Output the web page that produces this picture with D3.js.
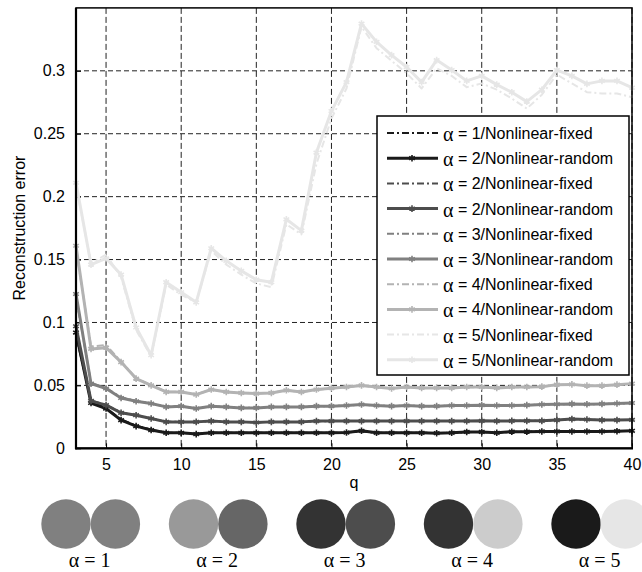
<!DOCTYPE html>
<html>
<head>
<meta charset="utf-8">
<script src="https://cdn.jsdelivr.net/npm/d3@7"></script>
<style>
	body { margin: 0; background: #fff; }
</style>
</head>
<body>
<div id="chart-area"></div>
<script>
const WIDTH = 642
const HEIGHT = 572
const PLOT = { LEFT: 76, RIGHT: 632, TOP: 7.9, BOTTOM: 448.3 }
const SANS = "'Liberation Sans', Arial, sans-serif"
const SERIF = "'Liberation Serif', 'Times New Roman', serif"

// data
const qValues = [3, 4, 5, 6, 7, 8, 9, 10, 11, 12, 13, 14, 15, 16, 17, 18, 19, 20, 21, 22,
	23, 24, 25, 26, 27, 28, 29, 30, 31, 32, 33, 34, 35, 36, 37, 38, 39, 40]
const xTicks = [5, 10, 15, 20, 25, 30, 35, 40]
const yTicks = [0, 0.05, 0.1, 0.15, 0.2, 0.25, 0.3]

const a1Fixed = [0.090, 0.037, 0.032, 0.023, 0.018, 0.0148, 0.0125, 0.0123, 0.0115, 0.0123, 0.0123, 0.0123, 0.0123, 0.0123, 0.0123, 0.0123, 0.0123, 0.0123, 0.0125, 0.0135,
	0.0123, 0.0123, 0.0123, 0.0123, 0.0122, 0.0123, 0.0128, 0.013, 0.0125, 0.013, 0.0132, 0.0134, 0.0134, 0.0134, 0.0134, 0.0134, 0.0136, 0.0138]
const a1Random = [0.092, 0.036, 0.0316, 0.0224, 0.0176, 0.0145, 0.0123, 0.0123, 0.0113, 0.0123, 0.0123, 0.0123, 0.0123, 0.0123, 0.0123, 0.0123, 0.0123, 0.0123, 0.0125, 0.0139,
	0.0123, 0.0123, 0.0123, 0.0123, 0.012, 0.0123, 0.013, 0.013, 0.0123, 0.0132, 0.0132, 0.0134, 0.0134, 0.0134, 0.0134, 0.0134, 0.0136, 0.0139]
const a2Fixed = [0.095, 0.038, 0.0345, 0.0285, 0.0265, 0.0238, 0.0212, 0.021, 0.021, 0.0215, 0.021, 0.021, 0.0207, 0.021, 0.021, 0.021, 0.0215, 0.0216, 0.0216, 0.0216,
	0.0216, 0.0216, 0.0216, 0.0216, 0.0216, 0.0216, 0.0216, 0.0218, 0.0216, 0.0218, 0.0218, 0.0218, 0.0222, 0.023, 0.0228, 0.0224, 0.0224, 0.0225]
const a2Random = [0.097, 0.0377, 0.0343, 0.0282, 0.0263, 0.0237, 0.021, 0.021, 0.021, 0.0216, 0.021, 0.021, 0.0205, 0.021, 0.021, 0.021, 0.0216, 0.0216, 0.0216, 0.0216,
	0.0216, 0.0216, 0.0216, 0.0216, 0.0216, 0.0216, 0.0216, 0.0218, 0.0216, 0.0218, 0.0218, 0.0218, 0.0224, 0.0232, 0.0229, 0.0224, 0.0224, 0.0226]
const a3Fixed = [0.121, 0.052, 0.048, 0.0405, 0.0376, 0.0357, 0.0331, 0.0335, 0.0318, 0.0334, 0.0329, 0.0322, 0.0322, 0.0329, 0.0329, 0.0329, 0.0334, 0.0335, 0.034, 0.0346,
	0.034, 0.0335, 0.034, 0.0335, 0.0335, 0.034, 0.034, 0.0342, 0.034, 0.034, 0.0343, 0.0347, 0.035, 0.0352, 0.035, 0.0352, 0.0355, 0.0358]
const a3Random = [0.1226, 0.0514, 0.0475, 0.040, 0.0374, 0.0356, 0.0329, 0.0335, 0.0316, 0.0335, 0.0329, 0.0321, 0.0321, 0.0329, 0.0329, 0.0329, 0.0335, 0.0335, 0.034, 0.0348,
	0.034, 0.0335, 0.034, 0.0335, 0.0335, 0.034, 0.034, 0.0343, 0.034, 0.034, 0.0343, 0.0348, 0.035, 0.0353, 0.035, 0.0353, 0.0356, 0.036]
const a4Fixed = [0.159, 0.081, 0.082, 0.069, 0.0556, 0.0502, 0.045, 0.0448, 0.043, 0.0465, 0.0448, 0.0442, 0.0437, 0.0442, 0.046, 0.0448, 0.0465, 0.0477, 0.0486, 0.0498,
	0.0486, 0.0476, 0.0486, 0.048, 0.048, 0.048, 0.0486, 0.0486, 0.048, 0.0486, 0.0486, 0.049, 0.0504, 0.0506, 0.0498, 0.0498, 0.0504, 0.0512]
const a4Random = [0.161, 0.079, 0.080, 0.0685, 0.0554, 0.050, 0.0448, 0.0448, 0.0427, 0.0467, 0.0448, 0.044, 0.0435, 0.044, 0.0461, 0.0448, 0.0467, 0.0478, 0.0487, 0.050,
	0.0487, 0.0475, 0.0487, 0.048, 0.048, 0.048, 0.0487, 0.0487, 0.048, 0.0487, 0.0487, 0.049, 0.0506, 0.0508, 0.0498, 0.0498, 0.0506, 0.0514]
const a5Fixed = [0.209, 0.147, 0.154, 0.136, 0.094, 0.073, 0.130, 0.122, 0.116, 0.157, 0.146, 0.138, 0.131, 0.128, 0.178, 0.170, 0.226, 0.262, 0.286, 0.335,
	0.318, 0.308, 0.298, 0.286, 0.302, 0.296, 0.287, 0.290, 0.285, 0.278, 0.270, 0.281, 0.297, 0.290, 0.283, 0.282, 0.282, 0.279]
const a5Random = [0.211, 0.146, 0.151, 0.138, 0.096, 0.074, 0.132, 0.124, 0.116, 0.159, 0.149, 0.141, 0.134, 0.132, 0.182, 0.173, 0.235, 0.268, 0.291, 0.3375,
	0.323, 0.3125, 0.303, 0.291, 0.3085, 0.3006, 0.292, 0.296, 0.289, 0.283, 0.2755, 0.285, 0.3006, 0.296, 0.2896, 0.292, 0.292, 0.2866]

// series in legend order (label text kept as in the original figure)
const seriesLabels = ["1/Nonlinear-fixed", "2/Nonlinear-random", "2/Nonlinear-fixed", "2/Nonlinear-random",
	"3/Nonlinear-fixed", "3/Nonlinear-random", "4/Nonlinear-fixed", "4/Nonlinear-random",
	"5/Nonlinear-fixed", "5/Nonlinear-random"]
const seriesValues = [a1Fixed, a1Random, a2Fixed, a2Random, a3Fixed, a3Random, a4Fixed, a4Random, a5Fixed, a5Random]
const seriesColors = ["#1a1a1a", "#1a1a1a", "#4d4d4d", "#4d4d4d", "#808080", "#808080", "#b3b3b3", "#b3b3b3", "#e6e6e6", "#e6e6e6"]

// colour pairs shown under the chart
const pairLabels = ["1", "2", "3", "4", "5"]
const pairLeft = ["#808080", "#999999", "#333333", "#333333", "#1a1a1a"]
const pairRight = ["#808080", "#666666", "#4d4d4d", "#cccccc", "#e6e6e6"]

const svg = d3.select("#chart-area").append("svg")
	.attr("width", WIDTH)
	.attr("height", HEIGHT)
	.style("font-family", SANS)

svg.append("rect").attr("width", WIDTH).attr("height", HEIGHT).attr("fill", "#fff")

// scales
const x = d3.scaleLinear().domain([3, 40]).range([PLOT.LEFT, PLOT.RIGHT])
const y = d3.scaleLinear().domain([0, 0.35]).range([PLOT.BOTTOM, PLOT.TOP])

// grid
const grid = svg.append("g").attr("class", "grid")
grid.selectAll(".vgrid").data(xTicks).enter().append("line")
	.attr("x1", d => x(d)).attr("x2", d => x(d))
	.attr("y1", PLOT.TOP).attr("y2", PLOT.BOTTOM)
	.attr("stroke", "#222").attr("stroke-width", 1)
	.attr("stroke-dasharray", "6,3")
grid.selectAll(".hgrid").data(yTicks.filter(d => d > 0)).enter().append("line")
	.attr("x1", PLOT.LEFT).attr("x2", PLOT.RIGHT)
	.attr("y1", d => y(d)).attr("y2", d => y(d))
	.attr("stroke", "#222").attr("stroke-width", 1)
	.attr("stroke-dasharray", "5,3")

// axes
const xAxisCall = d3.axisBottom(x).tickValues(xTicks).tickSize(-5).tickPadding(10).tickFormat(d3.format("d"))
const yAxisCall = d3.axisLeft(y).tickValues(yTicks).tickSize(-5).tickPadding(11).tickFormat(d => d === 0 ? "0" : String(d))

const xAxis = svg.append("g").attr("transform", `translate(0, ${PLOT.BOTTOM})`).call(xAxisCall)
const yAxis = svg.append("g").attr("transform", `translate(${PLOT.LEFT}, 0)`).call(yAxisCall)
;[xAxis, yAxis].forEach(a => {
	a.attr("font-family", SANS).attr("font-size", 16)
	a.select(".domain").remove()
	a.selectAll(".tick line").attr("stroke", "#000")
	a.selectAll(".tick text").attr("fill", "#000")
})

// lines
const line = d3.line()
	.x((d, i) => x(qValues[i]))
	.y(d => y(d))

const series = svg.append("g").attr("class", "series")
seriesValues.forEach((vals, i) => {
	const isRandom = i % 2 === 1
	series.append("path")
		.attr("d", line(vals))
		.attr("fill", "none")
		.attr("stroke", seriesColors[i])
		.attr("stroke-width", isRandom ? 3 : 2)
		.attr("stroke-dasharray", isRandom ? null : "7,3,2,3")
		.attr("stroke-linejoin", "round")
	if (isRandom) {
		series.selectAll(null).data(vals).enter().append("path")
			.attr("transform", (d, j) => `translate(${x(qValues[j])}, ${y(d)})`)
			.attr("d", d3.symbol(d3.symbolAsterisk, 30))
			.attr("fill", "none")
			.attr("stroke", seriesColors[i])
			.attr("stroke-width", 1.6)
	}
})

// frame
svg.append("rect")
	.attr("x", PLOT.LEFT).attr("y", PLOT.TOP)
	.attr("width", PLOT.RIGHT - PLOT.LEFT).attr("height", PLOT.BOTTOM - PLOT.TOP)
	.attr("fill", "none").attr("stroke", "#000").attr("stroke-width", 1.5)
svg.append("line")
	.attr("x1", PLOT.LEFT).attr("x2", PLOT.LEFT).attr("y1", PLOT.TOP).attr("y2", PLOT.BOTTOM + 1)
	.attr("stroke", "#000").attr("stroke-width", 2.2)
svg.append("line")
	.attr("x1", PLOT.LEFT - 1).attr("x2", PLOT.RIGHT + 1).attr("y1", PLOT.BOTTOM).attr("y2", PLOT.BOTTOM)
	.attr("stroke", "#000").attr("stroke-width", 2.2)

// axis labels
svg.append("text")
	.attr("transform", `translate(25, ${(PLOT.TOP + PLOT.BOTTOM) / 2}) rotate(-90)`)
	.attr("text-anchor", "middle")
	.attr("font-size", "16px")
	.text("Reconstruction error")
svg.append("text")
	.attr("x", (PLOT.LEFT + PLOT.RIGHT) / 2)
	.attr("y", 488)
	.attr("text-anchor", "middle")
	.attr("font-size", "16px")
	.text("q")

// legend
const legend = svg.append("g").attr("class", "legend")
legend.append("rect")
	.attr("x", 377).attr("y", 116)
	.attr("width", 252).attr("height", 259)
	.attr("fill", "#fff").attr("stroke", "#000").attr("stroke-width", 1.5)

seriesLabels.forEach((label, i) => {
	const cy = 133 + i * 25.2
	const isRandom = i % 2 === 1
	legend.append("line")
		.attr("x1", 387).attr("x2", 438).attr("y1", cy).attr("y2", cy)
		.attr("stroke", seriesColors[i])
		.attr("stroke-width", isRandom ? 3 : 2)
		.attr("stroke-dasharray", isRandom ? null : "7,3,2,3")
	if (isRandom) {
		legend.append("path")
			.attr("transform", `translate(412, ${cy})`)
			.attr("d", d3.symbol(d3.symbolAsterisk, 30))
			.attr("fill", "none").attr("stroke", seriesColors[i]).attr("stroke-width", 1.6)
	}
	const t = legend.append("text").attr("x", 443).attr("y", cy + 6).attr("font-size", "16px")
	t.append("tspan")
		.style("font-family", SERIF)
		.attr("font-size", "20px")
		.attr("dy", 2)
		.text("α")
	t.append("tspan").attr("dy", -2).text(" = " + label)
})

// colour pairs under the chart
const pairX = d3.scalePoint().domain(pairLabels).range([90.7, 600.7])
const R = 24.7
const pairs = svg.append("g").attr("class", "pairs")
pairLabels.forEach((p, i) => {
	const cx = pairX(p)
	pairs.append("circle").attr("cx", cx - R).attr("cy", 524).attr("r", R).attr("fill", pairLeft[i])
	pairs.append("circle").attr("cx", cx + R).attr("cy", 524).attr("r", R).attr("fill", pairRight[i])
	pairs.append("text")
		.attr("x", cx - 1).attr("y", 567)
		.attr("text-anchor", "middle")
		.style("font-family", SERIF)
		.attr("font-size", "20px")
		.text("α = " + p)
})
</script>
</body>
</html>
